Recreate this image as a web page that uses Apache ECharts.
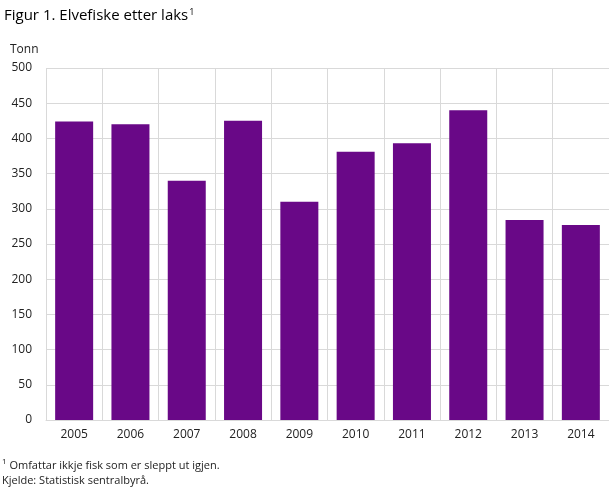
<!DOCTYPE html>
<html>
<head>
<meta charset="utf-8">
<script src="https://cdn.jsdelivr.net/npm/echarts@6/dist/echarts.min.js"></script>
<style>
html,body{margin:0;padding:0;background:#fff;}
#chart{width:609px;height:488px;}
</style>
</head>
<body>
<div id="chart"></div>
<script>
const categories = ['2005','2006','2007','2008','2009','2010','2011','2012','2013','2014'];
const values = [424, 420, 340, 425, 310, 381, 393, 440, 284, 277];
const yTicks = [0, 50, 100, 150, 200, 250, 300, 350, 400, 450, 500];

const chart = echarts.init(document.getElementById('chart'));
const font = '"Open Sans", sans-serif';
chart.setOption({
  animation: false,
  backgroundColor: '#fff',
  textStyle: { fontFamily: font },
  title: [
    {
      text: '{t|Figur 1. Elvefiske etter laks}{s|1}',
      left: 4, top: 8, padding: 0,
      textStyle: {
        fontWeight: 'normal',
        rich: {
          t: { fontFamily: font, fontSize: 15, fontWeight: 500, color: '#000' },
          s: { fontFamily: font, fontSize: 9, fontWeight: 'normal', color: '#000', verticalAlign: 'top', padding: [0,0,6,1] }
        }
      }
    },
    {
      text: '{s|1}{t| Omfattar ikkje fisk som er sleppt ut igjen.}\n{t|Kjelde: Statistisk sentralbyrå.}',
      left: 2, top: 458, padding: 0,
      textStyle: {
        fontWeight: 'normal',
        rich: {
          t: { fontFamily: font, fontSize: 11, fontWeight: 'normal', color: '#222', lineHeight: 15 },
          s: { fontFamily: font, fontSize: 8, fontWeight: 'normal', color: '#222', verticalAlign: 'top', lineHeight: 15, padding:[0,0,4,0] }
        }
      }
    },
    {
      text: 'Tonn', left: 10, top: 44, padding: 0,
      textStyle: { fontFamily: font, fontSize: 12, fontWeight: 'normal', color: '#222' }
    }
  ],
  grid: { left: 46, right: 0, top: 68, bottom: 68, containLabel: false },
  xAxis: {
    type: 'category',
    data: categories,
    axisLine: { lineStyle: { color: '#d9d9d9', width: 1 } },
    axisTick: { show: false },
    axisLabel: { color: '#222', fontSize: 12, fontFamily: font, margin: 9 },
    splitLine: { show: true, lineStyle: { color: '#d9d9d9', width: 1 } }
  },
  yAxis: {
    type: 'value',
    min: 0, max: 500, interval: 50,
    axisLine: { show: false },
    axisTick: { show: false },
    axisLabel: { color: '#222', fontSize: 12, fontFamily: font, margin: 14,
      formatter: v => yTicks.includes(v) ? String(v) : '' },
    splitLine: { lineStyle: { color: '#d9d9d9', width: 1 } }
  },
  series: [{
    type: 'bar',
    data: values,
    barWidth: '67.5%',
    itemStyle: { color: '#690887' }
  }]
});
</script>
</body>
</html>
